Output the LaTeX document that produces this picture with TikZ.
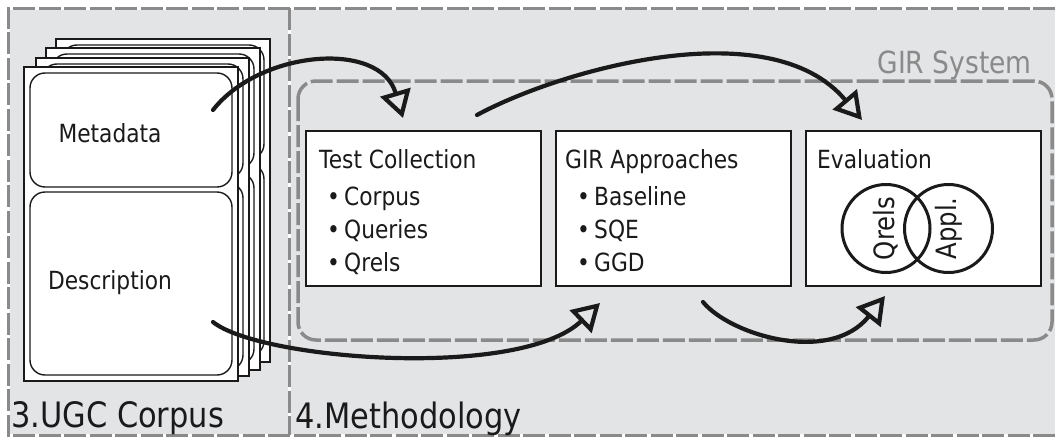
\documentclass[tikz,border=0pt]{standalone}
\usepackage{fontspec}
\setmainfont{DejaVu Sans}[FakeStretch=0.87]
\usepackage{xcolor}
\usetikzlibrary{positioning,calc,arrows.meta}
\definecolor{GPanel}{HTML}{E3E4E6}
\definecolor{GDash}{HTML}{8A8A8A}
\definecolor{GInk}{HTML}{1A1A1A}

\begin{document}
\begin{tikzpicture}[x=1pt, y=-1pt,
  framegap/.style={white, line width=3pt},
  frame/.style={GDash, line width=3pt, dash pattern=on 22pt off 3.5pt},
  sysbox/.style={GDash, line width=3.5pt, dash pattern=on 22pt off 4pt, rounded corners=18pt},
  page/.style={draw=GInk, fill=white, line width=1.4pt},
  field/.style={draw=GInk, fill=white, line width=1.4pt, rounded corners=15pt},
  stage/.style={draw=GInk, fill=white, line width=2pt, minimum width=235pt, minimum height=155pt, inner sep=0pt, outer sep=0pt},
  body/.style={font=\fontsize{25}{30}\selectfont, text=GInk, inner sep=0pt},
  venn/.style={circle, draw=GInk, line width=3pt, minimum size=88pt, inner sep=0pt, font=\fontsize{28}{33}\selectfont, text=GInk, rotate=90},
  title/.style={font=\fontsize{35}{42}\selectfont, text=GInk, inner sep=0pt, anchor=base west},
  flow/.style={GInk, line width=4.2pt, line cap=round, -{Triangle[open,length=27pt,width=31pt]}}]
\useasboundingbox (0,0) rectangle (1055,439);
% panels
\fill[GPanel] (8,8) rectangle (1055,435);
\draw[framegap] (1055,8) -- (8,8) -- (8,435) -- (1055,435) (289,8) -- (289,435);
\draw[frame] (1055,8) -- (8,8) -- (8,435) -- (1055,435) (289,8) -- (289,435);
\node[title] (ugc) at (11,427) {3.UGC Corpus};
\node[title] (method) at (295,428) {4.Methodology};
% GIR system
\draw[sysbox] (298,81) rectangle (1052,340);
\node[font=\fontsize{30.5}{36}\selectfont, text=GDash, anchor=base east, inner sep=0pt] (girsys) at (1032,73) {GIR System};
% stack of documents
\foreach \l/\t/\r/\b in {56/39/270/362, 46/48/260/370, 36/58/249/376, 24/67/238/381}{
  \draw[page] (\l,\t) rectangle (\r,\b);
  \draw[field] (\l+6,\t+6) rectangle (\r-6,\t+120);
  \draw[field] (\l+6,\t+125) rectangle (\r-6,\b-6);
}
\node[body] (meta) at (110,133) {Metadata};
\node[body] (desc) at (110,283) {Description};
% stages
\node[stage] (tc) at (423.5,208.5) {};
\node[stage, right=15pt of tc] (gir) {};
\node[stage, right=15pt of gir] (eval) {};
\node[body, anchor=base west] (tctitle) at ($(tc.north west)+(13,37)$) {Test Collection};
\node[body, anchor=base west] (girtitle) at ($(gir.north west)+(9,37)$) {GIR Approaches};
\node[body, anchor=base west] (evaltitle) at ($(eval.north west)+(11,37)$) {Evaluation};
\foreach \entry [count=\i] in {Corpus,Queries,Qrels}
  \node[body, anchor=base west] (tc\i) at ($(tc.north west)+(21,41+33*\i)$) {•\,\entry};
\foreach \entry [count=\i] in {Baseline,SQE,GGD}
  \node[body, anchor=base west] (gir\i) at ($(gir.north west)+(21,41+33*\i)$) {•\,\entry};
\node[venn] (qrels) at (886,228.5) {Qrels};
\node[venn] (appl) at (948.5,228.5) {Appl.};
% flows
\coordinate (metaout) at (213,110);
\coordinate (descout) at (213,322);
\coordinate (tcin) at ($(tc.north west)+(97,-13)$);
\coordinate (tcout) at ($(tc.north west)+(171,-16)$);
\coordinate (evalin) at ($(eval.north west)+(56,-11)$);
\coordinate (girin) at ($(gir.south west)+(44,17)$);
\coordinate (girout) at ($(gir.south west)+(147,16)$);
\coordinate (evalup) at ($(eval.south west)+(79,10)$);
\draw[flow] (metaout) .. controls +(47,-60) and +(-23,-78) .. (tcin);
\draw[flow] (tcout) .. controls +(83,-45) and +(-92,-110) .. (evalin);
\draw[flow] (descout) .. controls +(47,38) and +(-80,77) .. (girin);
\draw[flow] (girout) .. controls +(27,33) and +(-55,69) .. (evalup);
\end{tikzpicture}
\end{document}
